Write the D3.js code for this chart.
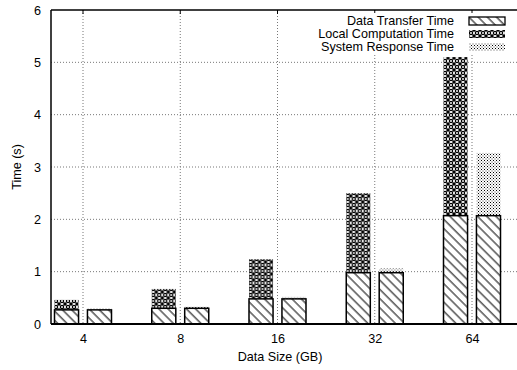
<!DOCTYPE html>
<html>
<head>
<meta charset="utf-8">
<script src="https://cdn.jsdelivr.net/npm/d3@7"></script>
<style>
  body { margin: 0; background: #fff; }
  text { font-family: "Liberation Sans", Arial, sans-serif; font-size: 12.6px; fill: #000; }
</style>
</head>
<body>
<div id="chart"></div>
<script>
// donnees
const dataSizes = ["4", "8", "16", "32", "64"];
const transferTime = [0.27, 0.30, 0.48, 0.98, 2.07];
const computeTime = [0.19, 0.37, 0.76, 1.52, 3.03];
const responseTime = [0.03, 0.03, 0.04, 0.08, 1.20];
const yTicks = [0, 1, 2, 3, 4, 5, 6];
const legendLabels = ["Data Transfer Time", "Local Computation Time", "System Response Time"];

const W = 517, H = 370;
const margin = { top: 10, right: -30, bottom: 46, left: 51 };
const plotW = W - margin.left - margin.right;
const plotH = H - margin.top - margin.bottom;

const svg = d3.select("#chart").append("svg")
    .attr("width", W)
    .attr("height", H);

// motifs de remplissage
const defs = svg.append("defs");

const pTransfer = defs.append("pattern")
    .attr("id", "pTransfer")
    .attr("patternUnits", "userSpaceOnUse")
    .attr("width", 6.5).attr("height", 6.5)
    .attr("patternTransform", "rotate(-45)");
pTransfer.append("rect").attr("width", 6.5).attr("height", 6.5).attr("fill", "#fff");
pTransfer.append("line")
    .attr("x1", 1).attr("y1", 0).attr("x2", 1).attr("y2", 6.5)
    .attr("stroke", "#000").attr("stroke-width", 1);

const pCompute = defs.append("pattern")
    .attr("id", "pCompute")
    .attr("patternUnits", "userSpaceOnUse")
    .attr("width", 6).attr("height", 6);
pCompute.append("rect").attr("width", 6).attr("height", 6).attr("fill", "#fff");
pCompute.append("circle").attr("cx", 3).attr("cy", 3).attr("r", 1.6)
    .attr("fill", "none").attr("stroke", "#000").attr("stroke-width", 1.3);
[[0, 0], [6, 0], [0, 6], [6, 6]].forEach(p => {
    pCompute.append("rect").attr("x", p[0] - 1.6).attr("y", p[1] - 1.6)
        .attr("width", 3.2).attr("height", 3.2).attr("fill", "#000");
});

const pResponse = defs.append("pattern")
    .attr("id", "pResponse")
    .attr("patternUnits", "userSpaceOnUse")
    .attr("width", 3).attr("height", 3);
pResponse.append("rect").attr("width", 3).attr("height", 3).attr("fill", "#fff");
pResponse.append("rect").attr("x", 0).attr("y", 0).attr("width", 1).attr("height", 1).attr("fill", "#000");
pResponse.append("rect").attr("x", 1.5).attr("y", 1.5).attr("width", 1).attr("height", 1).attr("fill", "#444");

const g = svg.append("g")
    .attr("transform", "translate(" + margin.left + "," + margin.top + ")");

const x = d3.scalePoint()
    .domain(dataSizes)
    .range([32, 421]);

const xSub = d3.scaleBand()
    .domain([0, 1])
    .range([-28.5, 28.5])
    .paddingInner(0.27);

const y = d3.scaleLinear()
    .domain([0, 6])
    .range([plotH, 0]);

// grille pointillee
g.append("g").selectAll("line")
    .data(yTicks.slice(1, -1))
    .join("line")
    .attr("x1", 0).attr("x2", plotW)
    .attr("y1", d => y(d)).attr("y2", d => y(d))
    .attr("stroke", "#777").attr("stroke-width", 1)
    .attr("stroke-dasharray", "1,2");

g.append("g").selectAll("line")
    .data(dataSizes)
    .join("line")
    .attr("x1", d => x(d)).attr("x2", d => x(d))
    .attr("y1", 0).attr("y2", plotH)
    .attr("stroke", "#777").attr("stroke-width", 1)
    .attr("stroke-dasharray", "1,2");

// barres
const groups = g.append("g").selectAll("g")
    .data(dataSizes)
    .join("g")
    .attr("transform", d => "translate(" + x(d) + ",0)");

groups.each(function (d, i) {
    const grp = d3.select(this);
    const bw = xSub.bandwidth();
    // barre 1 : transfert + calcul local
    grp.append("rect")
        .attr("x", xSub(0))
        .attr("y", y(transferTime[i] + computeTime[i]))
        .attr("width", bw)
        .attr("height", y(transferTime[i]) - y(transferTime[i] + computeTime[i]))
        .attr("fill", "url(#pCompute)");
    grp.append("rect")
        .attr("x", xSub(0))
        .attr("y", y(transferTime[i]))
        .attr("width", bw)
        .attr("height", y(0) - y(transferTime[i]))
        .attr("fill", "url(#pTransfer)")
        .attr("stroke", "#000").attr("stroke-width", 1.5);
    // barre 2 : transfert + reponse systeme
    grp.append("rect")
        .attr("x", xSub(1))
        .attr("y", y(transferTime[i] + responseTime[i]))
        .attr("width", bw)
        .attr("height", y(transferTime[i]) - y(transferTime[i] + responseTime[i]))
        .attr("fill", "url(#pResponse)");
    grp.append("rect")
        .attr("x", xSub(1))
        .attr("y", y(transferTime[i]))
        .attr("width", bw)
        .attr("height", y(0) - y(transferTime[i]))
        .attr("fill", "url(#pTransfer)")
        .attr("stroke", "#000").attr("stroke-width", 1.5);
});

// axes
const axeY = d3.axisLeft(y).tickValues(yTicks).tickFormat(d3.format("d")).tickSize(0).tickPadding(10);
const gy = g.append("g").call(axeY);
gy.select(".domain").remove();
gy.selectAll("text").style("font-size", "12.6px").style("font-family", "Liberation Sans, Arial, sans-serif");

const axeX = d3.axisBottom(x).tickSize(0).tickPadding(10);
const gx = g.append("g").attr("transform", "translate(0," + plotH + ")").call(axeX);
gx.select(".domain").remove();
gx.selectAll("text").style("font-size", "12.6px").style("font-family", "Liberation Sans, Arial, sans-serif");

// petites graduations en haut
g.append("g").selectAll("line")
    .data(dataSizes)
    .join("line")
    .attr("x1", d => x(d)).attr("x2", d => x(d))
    .attr("y1", 0).attr("y2", 4)
    .attr("stroke", "#000").attr("stroke-width", 1);

// cadre
g.append("line").attr("x1", 0).attr("x2", plotW).attr("y1", 0).attr("y2", 0)
    .attr("stroke", "#000").attr("stroke-width", 1.5);
g.append("line").attr("x1", 0).attr("x2", plotW).attr("y1", plotH).attr("y2", plotH)
    .attr("stroke", "#000").attr("stroke-width", 2);
g.append("line").attr("x1", 0).attr("x2", 0).attr("y1", 0).attr("y2", plotH)
    .attr("stroke", "#000").attr("stroke-width", 1.5);

// titres des axes
svg.append("text")
    .attr("x", margin.left + 229)
    .attr("y", 361)
    .attr("text-anchor", "middle")
    .text("Data Size (GB)");

svg.append("text")
    .attr("transform", "translate(21," + (margin.top + plotH / 2) + ") rotate(-90)")
    .attr("text-anchor", "middle")
    .text("Time (s)");

// legende (fond blanc qui cache la grille)
const fills = ["url(#pTransfer)", "url(#pCompute)", "url(#pResponse)"];
const legend = svg.append("g");
legend.append("rect")
    .attr("x", 300).attr("y", 13)
    .attr("width", 210).attr("height", 41)
    .attr("fill", "#fff");
legendLabels.forEach((lab, i) => {
    const ly = 21 + i * 13;
    legend.append("text")
        .attr("x", 454)
        .attr("y", ly)
        .attr("dy", "0.35em")
        .attr("text-anchor", "end")
        .text(lab);
    legend.append("rect")
        .attr("x", 469)
        .attr("y", ly - 4)
        .attr("width", 36)
        .attr("height", 8)
        .attr("fill", fills[i])
        .attr("stroke", i == 0 ? "#000" : "none")
        .attr("stroke-width", 1.3);
});
</script>
</body>
</html>
